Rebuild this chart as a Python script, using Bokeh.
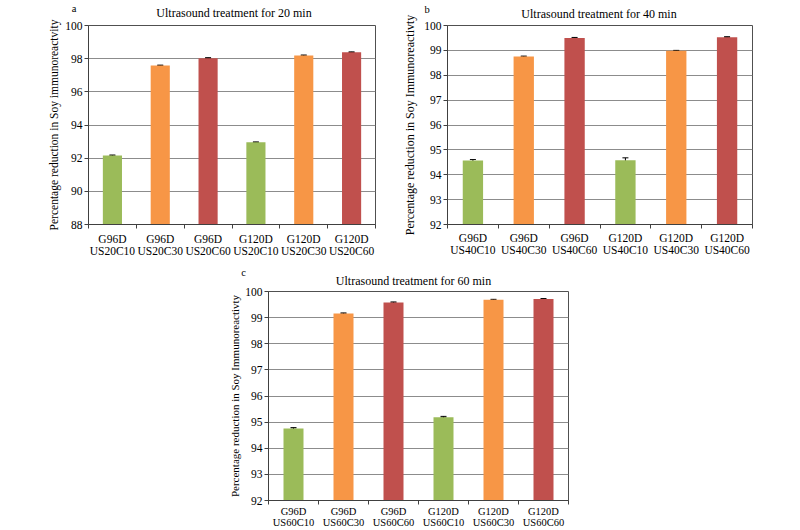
from bokeh.plotting import figure
from bokeh.models import Range1d, FixedTicker, Label, Whisker, ColumnDataSource, Spacer
from bokeh.layouts import column, row
from bokeh.embed import file_html
from bokeh.resources import INLINE

FONT = "Liberation Serif"

# ---- data ----
groups = ["G96D", "G96D", "G96D", "G120D", "G120D", "G120D"]
sub_a = ["US20C10", "US20C30", "US20C60", "US20C10", "US20C30", "US20C60"]
sub_b = ["US40C10", "US40C30", "US40C60", "US40C10", "US40C30", "US40C60"]
sub_c = ["US60C10", "US60C30", "US60C60", "US60C10", "US60C30", "US60C60"]

values_a = [92.16, 97.59, 98.03, 92.96, 98.19, 98.39]
errors_a = [0.03, 0.02, 0.03, 0.02, 0.03, 0.02]
values_b = [94.57, 98.75, 99.50, 94.58, 98.98, 99.53]
errors_b = [0.04, 0.02, 0.02, 0.10, 0.02, 0.02]
values_c = [94.76, 99.16, 99.58, 95.19, 99.68, 99.71]
errors_c = [0.03, 0.02, 0.02, 0.03, 0.02, 0.02]

bar_colors = ["#9BBB59", "#F79646", "#C0504D", "#9BBB59", "#F79646", "#C0504D"]

title_a = "Ultrasound treatment for 20 min"
title_b = "Ultrasound treatment for 40 min"
title_c = "Ultrasound treatment for 60 min"
ylabel_a = "Percentage reduction in Soy immunoreactvity"
ylabel_b = "Percentage reduction in Soy Immunoreactivty"
ylabel_c = "Percentage reduction in Soy Immunoreactivty"
yticks_a = [88, 90, 92, 94, 96, 98, 100]
yticks_b = [92, 93, 94, 95, 96, 97, 98, 99, 100]
yticks_c = [92, 93, 94, 95, 96, 97, 98, 99, 100]


def make_panel(letter, title, ylabel, subs, values, errors, yticks,
               width, height, bl, br, bt, bb,
               title_dx, title_dy, letter_dx, letter_dy,
               ylab_size, ylab_standoff, tick_size, xlab_size, xlab_standoff):
    n = len(values)
    xs = list(range(1, n + 1))
    p = figure(width=width, height=height,
               x_range=Range1d(0.5, n + 0.5),
               y_range=Range1d(yticks[0], yticks[-1]),
               output_backend="svg", toolbar_location=None,
               min_border_left=bl, min_border_right=br,
               min_border_top=bt, min_border_bottom=bb)
    p.background_fill_color = "white"
    p.border_fill_color = "white"
    p.outline_line_color = "#505050"
    p.outline_line_width = 1

    src = ColumnDataSource(dict(
        x=xs, top=values,
        upper=[v + e for v, e in zip(values, errors)],
        lower=[v - e for v, e in zip(values, errors)],
        color=bar_colors[:n]))
    p.vbar(x="x", top="top", bottom=yticks[0], width=0.4,
           fill_color="color", line_color=None, source=src)
    w = Whisker(base="x", upper="upper", lower="lower", source=src,
                line_color="black", line_width=1)
    w.upper_head.size = 6
    w.lower_head.size = 6
    w.upper_head.line_color = "black"
    w.lower_head.line_color = "black"
    p.add_layout(w)

    # grid
    p.xgrid.grid_line_color = None
    p.ygrid.grid_line_color = "#8c8c8c"
    p.ygrid.grid_line_width = 1
    p.ygrid.ticker = FixedTicker(ticks=yticks)

    # y axis
    ya = p.yaxis[0]
    ya.ticker = FixedTicker(ticks=yticks)
    ya.axis_line_color = "#404040"
    ya.major_tick_line_color = "#404040"
    ya.major_tick_out = 4
    ya.major_tick_in = 0
    ya.minor_tick_line_color = None
    ya.major_label_text_font = FONT
    ya.major_label_text_font_size = tick_size
    ya.major_label_text_color = "black"
    ya.major_label_standoff = 2
    ya.axis_label = ylabel
    ya.axis_label_text_font = FONT
    ya.axis_label_text_font_size = ylab_size
    ya.axis_label_text_font_style = "normal"
    ya.axis_label_text_color = "black"
    ya.axis_label_standoff = ylab_standoff

    # x axis
    xa = p.xaxis[0]
    xa.ticker = FixedTicker(ticks=xs, minor_ticks=[x + 0.5 for x in range(0, n + 1)])
    xa.major_label_overrides = {x: g + "\n" + s for x, g, s in zip(xs, groups, subs)}
    xa.axis_line_color = "#404040"
    xa.major_tick_out = 0
    xa.major_tick_in = 0
    xa.minor_tick_out = 4
    xa.minor_tick_in = 0
    xa.minor_tick_line_color = "#404040"
    xa.major_label_text_font = FONT
    xa.major_label_text_font_size = xlab_size
    xa.major_label_text_line_height = 1.0
    xa.major_label_text_color = "black"
    xa.major_label_standoff = xlab_standoff

    # title and panel letter, both anchored at the top-centre of the frame
    xc = (n + 1) / 2
    p.add_layout(Label(x=xc, y=yticks[-1], x_offset=title_dx, y_offset=title_dy,
                       text=title, text_font=FONT, text_font_size="12px",
                       text_color="black", text_align="center",
                       text_baseline="middle"), "above")
    p.add_layout(Label(x=xc, y=yticks[-1], x_offset=letter_dx, y_offset=letter_dy,
                       text=letter, text_font=FONT, text_font_size="10.5px",
                       text_color="black", text_align="center",
                       text_baseline="middle"), "above")
    return p


# page origin is the window's top-left corner (the Bokeh page has no body margin)
pa = make_panel("a", title_a, ylabel_a, sub_a, values_a, errors_a, yticks_a,
                400, 266, 88, 25, 25, 42, 2, 13, -158, 17,
                "11.5px", 2, "11.5px", "11.5px", 4)
pb = make_panel("b", title_b, ylabel_b, sub_b, values_b, errors_b, yticks_b,
                400, 266, 40, 48, 23, 42, -1, 12, -173, 16,
                "12px", 4, "11.5px", "11.5px", 3)
pc = make_panel("c", title_c, ylabel_c, sub_c, values_c, errors_c, yticks_c,
                392, 264, 60, 32, 25, 28, -5, 11, -175, 19,
                "11px", 1, "11.5px", "10.5px", 1)

layout = column(row(pa, pb), row(Spacer(width=208, height=264), pc))

open("out.html", "w").write(file_html(layout, INLINE))
